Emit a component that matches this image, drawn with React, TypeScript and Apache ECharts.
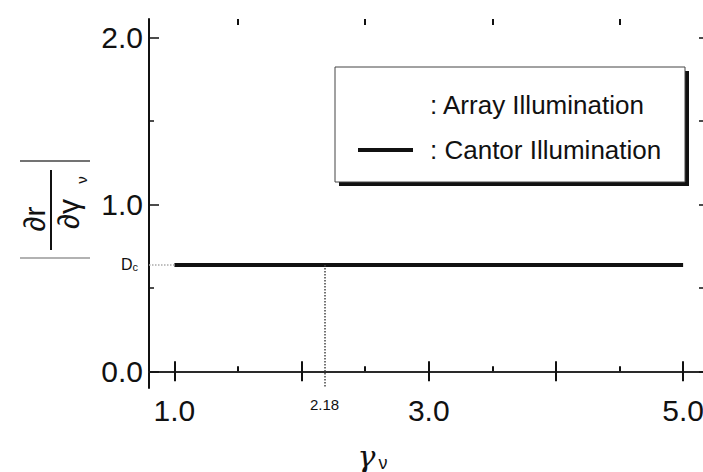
import React, { useEffect, useRef } from "react";
import * as echarts from "echarts";

// ---- data ----
const gammaRange = [1.0, 5.0]; // start and end of the Cantor illumination line
const cantorValues = [0.637, 0.637]; // |dr/dγν| = Dc, constant
const arrayValues: number[][] = []; // no visible line in the figure
const DC = 0.637;
const criticalGamma = 2.18;
const xTickMajor = [1, 2, 3, 4, 5];
const xTickMinor = [1.5, 2.5, 3.5, 4.5];
const xLabelValues = [1, 2.18, 3, 5];
const yTickMajor = [0, 1, 2];
const yTickMinor = [0.5, 1.5];
const yLabelValues = [0, DC, 1, 2];
const X_MIN = 0.8;
const X_MAX = 5.18;
const Y_MIN = -0.1;
const Y_MAX = 2.11;

const FONT = "Liberation Sans, Arial, Helvetica, sans-serif";
const INK = "#111";

export default function App() {
  const ref = useRef<HTMLDivElement>(null);
  useEffect(() => {
    if (!ref.current) return;
    const chart = echarts.init(ref.current, undefined, { renderer: "svg" });
    const near = (a: number, b: number) => Math.abs(a - b) < 1e-6;

    const baseX = {
      type: "value" as const,
      min: X_MIN,
      max: X_MAX,
      splitLine: { show: false },
    };
    const baseY = {
      type: "value" as const,
      min: Y_MIN,
      max: Y_MAX,
      splitLine: { show: false },
    };

    chart.setOption({
      animation: false,
      backgroundColor: "#fff",
      grid: {
        left: 149,
        top: 19,
        width: 557,
        height: 369,
        containLabel: false,
        outerBoundsMode: "none",
      },
      xAxis: [
        {
          ...baseX,
          position: "bottom",
          axisLine: { show: true, lineStyle: { color: INK, width: 2 } },
          axisTick: { show: true, inside: true, length: 10, customValues: xTickMajor, lineStyle: { color: INK, width: 2 } },
          axisLabel: {
            show: true,
            customValues: xLabelValues,
            margin: 7,
            hideOverlap: false,
            formatter: (v: number) => (near(v, criticalGamma) ? `{s|${criticalGamma.toFixed(2)}}` : `{b|${v.toFixed(1)}}`),
            rich: {
              b: { fontSize: 30, fontFamily: FONT, color: INK },
              s: { fontSize: 15, fontFamily: FONT, color: INK, padding: [2, 0, 0, 0] },
            },
          },
          name: "{g|γ}{s|ν}",
          nameLocation: "middle",
          nameGap: 52,
          nameTextStyle: {
            padding: [0, 110, 0, 0],
            rich: {
              g: { fontSize: 30, fontFamily: "DejaVu Serif, serif", fontStyle: "italic", color: INK },
              s: { fontSize: 18, fontFamily: FONT, color: INK, verticalAlign: "bottom", padding: [14, 0, 0, 3] },
            },
          },
        },
        {
          ...baseX,
          position: "bottom",
          axisLine: { show: false },
          axisTick: { show: true, inside: true, length: 5, customValues: xTickMinor, lineStyle: { color: INK, width: 2 } },
          axisLabel: { show: false },
        },
        {
          ...baseX,
          position: "top",
          axisLine: { show: true, lineStyle: { color: "#333", width: 1.5 } },
          axisTick: { show: true, inside: true, length: 10, customValues: xTickMajor, lineStyle: { color: INK, width: 2 } },
          axisLabel: { show: false },
        },
        {
          ...baseX,
          position: "top",
          axisLine: { show: false },
          axisTick: { show: true, inside: true, length: 6, customValues: xTickMinor, lineStyle: { color: INK, width: 2 } },
          axisLabel: { show: false },
        },
      ],
      yAxis: [
        {
          ...baseY,
          position: "left",
          axisLine: { show: true, lineStyle: { color: INK, width: 2 } },
          axisTick: { show: true, inside: true, length: 10, customValues: yTickMajor, lineStyle: { color: INK, width: 1.5 } },
          axisLabel: {
            show: true,
            customValues: yLabelValues,
            margin: 6,
            formatter: (v: number) => (near(v, DC) ? "{d|D}{c|c}" : `{b|${v.toFixed(1)}}`),
            rich: {
              b: { fontSize: 30, fontFamily: FONT, color: INK },
              d: { fontSize: 16, fontFamily: FONT, color: INK },
              c: { fontSize: 11, fontFamily: FONT, color: INK, padding: [5, 5, 0, 0] },
            },
          },
        },
        {
          ...baseY,
          position: "left",
          axisLine: { show: false },
          axisTick: { show: true, inside: true, length: 5, customValues: yTickMinor, lineStyle: { color: INK, width: 1.5 } },
          axisLabel: { show: false },
        },
        {
          ...baseY,
          position: "right",
          axisLine: { show: true, lineStyle: { color: INK, width: 1.5 } },
          axisTick: { show: true, inside: true, length: 7, customValues: [...yTickMajor, ...yTickMinor], lineStyle: { color: INK, width: 1.5 } },
          axisLabel: { show: false },
        },
      ],
      legend: {
        orient: "vertical",
        left: 358,
        top: 90,
        padding: 0,
        itemGap: 15,
        itemWidth: 55,
        itemHeight: 4,
        z: 10,
        data: [
          { name: "Array Illumination", icon: "none" },
          { name: "Cantor Illumination", icon: "rect", itemStyle: { color: INK } },
        ],
        formatter: (name: string) => `: ${name}`,
        textStyle: { fontSize: 26, fontFamily: FONT, color: INK, lineHeight: 30, padding: [0, 0, 0, 12] },
      },
      graphic: [
        // legend frame with drop shadow
        { type: "rect", z: 1, shape: { x: 339, y: 71, width: 350, height: 115 }, style: { fill: INK } },
        { type: "rect", z: 2, shape: { x: 335, y: 67, width: 350, height: 115 }, style: { fill: "#fff", stroke: "#444", lineWidth: 1 } },
        // y-axis title  | ∂r / ∂γν |  (rotated)
        { type: "line", shape: { x1: 20, y1: 161, x2: 90, y2: 161 }, style: { stroke: "#444", lineWidth: 1.5 } },
        { type: "line", shape: { x1: 20, y1: 258, x2: 90, y2: 258 }, style: { stroke: "#999", lineWidth: 1.5 } },
        { type: "line", shape: { x1: 51, y1: 170, x2: 51, y2: 250 }, style: { stroke: INK, lineWidth: 2 } },
        {
          type: "text", x: 34, y: 219, rotation: Math.PI / 2,
          style: { text: "∂r", font: `30px ${FONT}`, fill: INK, align: "center", verticalAlign: "middle" },
        },
        {
          type: "text", x: 68, y: 214, rotation: Math.PI / 2,
          style: { text: "∂γ", font: `30px ${FONT}`, fill: INK, align: "center", verticalAlign: "middle" },
        },
        {
          type: "text", x: 81, y: 180, rotation: Math.PI / 2,
          style: { text: "ν", font: `15px ${FONT}`, fill: INK, align: "center", verticalAlign: "middle" },
        },
      ],
      series: [
        {
          name: "Array Illumination",
          type: "line",
          data: arrayValues,
          showSymbol: false,
          lineStyle: { color: "#fff", width: 0 },
          itemStyle: { color: "#fff" },
        },
        {
          name: "Cantor Illumination",
          type: "line",
          data: gammaRange.map((g, i) => [g, cantorValues[i]]),
          showSymbol: false,
          symbol: "none",
          lineStyle: { color: INK, width: 4 },
          itemStyle: { color: INK },
          markLine: {
            silent: true,
            symbol: ["none", "none"],
            label: { show: false },
            data: [
              [
                { coord: [X_MIN, DC], lineStyle: { type: "dotted", color: "#aaa", width: 1.5 } },
                { coord: [gammaRange[0], DC] },
              ],
              [
                { coord: [criticalGamma, DC], lineStyle: { type: "dotted", color: "#444", width: 1.5 } },
                { coord: [criticalGamma, Y_MIN] },
              ],
            ],
          },
        },
      ],
    });
    return () => chart.dispose();
  }, []);

  return (
    <div
      ref={ref}
      style={{ position: "absolute", left: 0, top: 0, width: 703, height: 472, background: "#fff" }}
    />
  );
}
